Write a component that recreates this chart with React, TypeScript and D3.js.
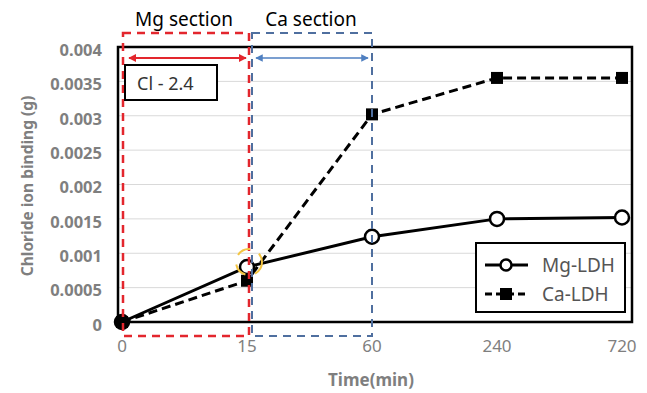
import * as d3 from "d3"
import { useEffect } from "react"

const categories = ["0", "15", "60", "240", "720"]
const mgLdh = [0, 0.0008, 0.00124, 0.0015, 0.00152]
const caLdh = [0, 0.0006, 0.00302, 0.00355, 0.00355]
const yTicks = [0, 0.0005, 0.001, 0.0015, 0.002, 0.0025, 0.003, 0.0035, 0.004]
const yTickLabels = ["0", "0.0005", "0.001", "0.0015", "0.002", "0.0025", "0.003", "0.0035", "0.004"]
const seriesNames = ["Mg-LDH", "Ca-LDH"]

const W = 647
const H = 393
const plot = { left: 118, right: 632, top: 47, bottom: 322 }
const font = "'Noto Sans', 'Open Sans', sans-serif"

export default function App() {
  useEffect(() => {
    document.body.style.margin = "0"
  }, [])

  const x = d3.scalePoint<string>().domain(categories).range([122, 622])
  const y = d3.scaleLinear().domain([0, 0.004]).range([plot.bottom, plot.top])

  const line = d3
    .line<number>()
    .x((_, i) => x(categories[i])!)
    .y((d) => y(d))

  // section boxes sit between category positions
  const redL = x("0")! + 1
  const redR = x("15")! + 2
  const blueL = x("15")! + 5
  const blueR = x("60")!
  const boxTop = 33
  const boxBottom = 336
  const arrowY = 58

  return (
    <svg width={W} height={H} style={{ display: "block", background: "#fff" }} fontFamily={font}>
      <defs>
        <marker id="redHead" viewBox="0 0 10 10" refX="9" refY="5" markerWidth="4" markerHeight="4" orient="auto-start-reverse">
          <path d="M0,0 L10,5 L0,10 z" fill="#e3262d" />
        </marker>
        <marker id="blueHead" viewBox="0 0 10 10" refX="9" refY="5" markerWidth="5" markerHeight="5" orient="auto-start-reverse">
          <path d="M0,0 L10,5 L0,10 z" fill="#4f7fc0" />
        </marker>
      </defs>

      {/* gridlines */}
      {yTicks.map((t) => (
        <line key={t} x1={plot.left} x2={plot.right} y1={y(t)} y2={y(t)} stroke="#d9d9d9" strokeWidth={1} />
      ))}

      {/* y tick labels */}
      {yTicks.map((t, i) => (
        <text key={t} x={102} y={y(t) + 3} dy="0.35em" textAnchor="end" fontSize={16.5} fontWeight="bold" fill="#7f7f7f">
          {yTickLabels[i]}
        </text>
      ))}

      {/* x tick labels */}
      {categories.map((c) => (
        <text key={c} x={x(c)} y={352} textAnchor="middle" fontSize={17} fill="#7f7f7f">
          {c}
        </text>
      ))}

      <text x={371} y={386} textAnchor="middle" fontSize={17} fontWeight="bold" fill="#7f7f7f">
        Time(min)
      </text>
      <text
        transform={`translate(33,186) rotate(-90)`}
        textAnchor="middle"
        fontSize={15.5}
        fontWeight="bold"
        fill="#7f7f7f"
      >
        Chloride ion binding (g)
      </text>

      {/* series */}
      <path d={line(mgLdh) || undefined} fill="none" stroke="#000" strokeWidth={3} />
      <path d={line(caLdh) || undefined} fill="none" stroke="#000" strokeWidth={3} strokeDasharray="9,5" />
      {mgLdh.map((v, i) => (
        <circle key={i} cx={x(categories[i])} cy={y(v)} r={7} fill="#fff" stroke="#000" strokeWidth={2.5} />
      ))}
      {caLdh.map((v, i) => (
        <rect key={i} x={x(categories[i])! - 6} y={y(v) - 6} width={12} height={12} fill="#000" />
      ))}

      {/* plot frame */}
      <rect x={plot.left} y={plot.top} width={plot.right - plot.left} height={plot.bottom - plot.top} fill="none" stroke="#000" strokeWidth={2.5} />

      {/* section boxes */}
      <rect x={blueL} y={boxTop} width={blueR - blueL} height={boxBottom - boxTop} fill="none" stroke="#4f6f9f" strokeWidth={2} strokeDasharray="8,6" />
      <rect x={redL} y={boxTop} width={redR - redL} height={boxBottom - boxTop} fill="none" stroke="#e3262d" strokeWidth={2.5} strokeDasharray="8,6" />

      <line x1={redL + 6} x2={redR - 3} y1={arrowY} y2={arrowY} stroke="#e3262d" strokeWidth={2} markerStart="url(#redHead)" markerEnd="url(#redHead)" />
      <line x1={blueL + 4} x2={blueR - 4} y1={arrowY} y2={arrowY} stroke="#4f7fc0" strokeWidth={1.5} markerStart="url(#blueHead)" markerEnd="url(#blueHead)" />

      <text x={184} y={26} textAnchor="middle" fontSize={19} fill="#000">Mg section</text>
      <text x={311} y={26} textAnchor="middle" fontSize={19} fill="#000">Ca section</text>

      <rect x={125} y={65} width={92} height={35} fill="#fff" stroke="#000" strokeWidth={2} />
      <text x={137} y={90} fontSize={18} fill="#333">Cl - 2.4</text>

      {/* yellow highlight ring */}
      <circle cx={x("15")! + 2} cy={262} r={13} fill="none" stroke="#f4c542" strokeWidth={2} strokeDasharray="14,10" />

      {/* legend */}
      <rect x={476} y={243} width={149} height={69} fill="#fff" stroke="#000" strokeWidth={2} />
      {seriesNames.map((name, i) => {
        const ly = 265 + i * 29
        return (
          <g key={name}>
            <line x1={485} x2={528} y1={ly} y2={ly} stroke="#000" strokeWidth={3} strokeDasharray={i === 0 ? undefined : "7,4"} />
            {i === 0 ? (
              <circle cx={506} cy={ly} r={5.5} fill="#fff" stroke="#000" strokeWidth={2.5} />
            ) : (
              <rect x={500} y={ly - 6} width={12} height={12} fill="#000" />
            )}
            <text x={542} y={ly} dy="0.35em" fontSize={19} fill="#555">{name}</text>
          </g>
        )
      })}
    </svg>
  )
}
